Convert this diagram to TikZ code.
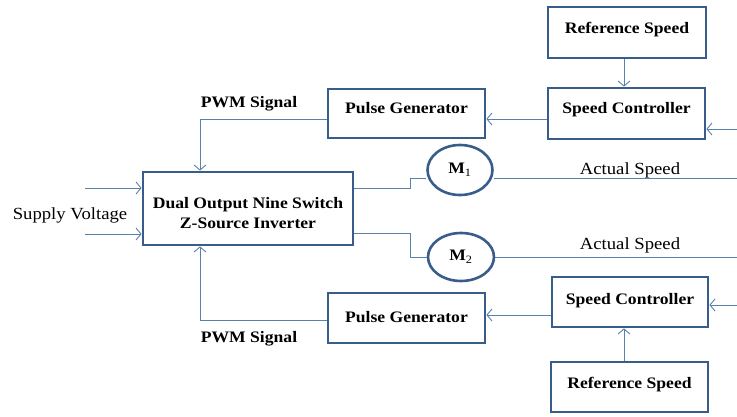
\documentclass[tikz,border=0pt]{standalone}
\usepackage{fontspec}
\setmainfont[FakeStretch=1.1]{Liberation Serif}
\usetikzlibrary{arrows.meta,shapes.geometric}
\definecolor{wire}{HTML}{5A80AC}
\definecolor{frame}{HTML}{385D8A}

\begin{document}
\begin{tikzpicture}[x=1pt,y=-1pt,
  blk/.style={draw=frame, line width=2.8pt, fill=white, inner sep=0pt,
    font=\bfseries\fontsize{16}{20}\selectfont},
  lifted/.style={text height=11pt, text depth=#1},
  motor/.style={draw=frame, line width=2.6pt, fill=white, shape=ellipse, inner sep=0pt,
    font=\bfseries\fontsize{16}{18}\selectfont},
  lbl/.style={font=\fontsize{17}{20}\selectfont, inner sep=0pt},
  blbl/.style={font=\bfseries\fontsize{16}{18}\selectfont, inner sep=0pt},
  arr/.style={draw=wire, line width=0.9pt, -{Straight Barb[length=5pt,width=12pt]}},
  wr/.style={draw=wire, line width=0.9pt}]
\useasboundingbox (0,0) rectangle (737,417);

% blocks
\node[blk, lifted=8pt, minimum width=158pt, minimum height=51pt] (refT) at (627,32.5) {Reference Speed};
\node[blk, lifted=10pt, minimum width=157pt, minimum height=51pt] (scT) at (626.5,113.5) {Speed Controller};
\node[blk, lifted=10pt, minimum width=157pt, minimum height=49pt] (pgT) at (406.5,113.5) {Pulse Generator};
\node[blk, minimum width=210pt, minimum height=73pt, align=center] (inv) at (248,208.5)
      {\rule{0pt}{21pt}Dual Output Nine Switch\\Z-Source Inverter};
\node[blk, lifted=7pt, minimum width=156pt, minimum height=50pt] (scB) at (630,302) {Speed Controller};
\node[blk, lifted=3pt, minimum width=157pt, minimum height=50pt] (pgB) at (406.5,318) {Pulse Generator};
\node[blk, lifted=9pt, minimum width=157pt, minimum height=50pt] (refB) at (629.5,387) {Reference Speed};

% motors
\node[motor, minimum width=65pt, minimum height=50pt] (M1) at (460,170) {M\textsubscript{\mdseries 1}};
\node[motor, minimum width=66pt, minimum height=48pt] (M2) at (461,257) {M\textsubscript{\mdseries 2}};

% labels
\node[lbl] (sv) at (70,215) {Supply Voltage};
\node[lbl] (as1) at (630,170) {Actual Speed};
\node[lbl] (as2) at (630,245) {Actual Speed};
\node[blbl] (pwmT) at (249,104) {PWM Signal};
\node[blbl] (pwmB) at (249,339) {PWM Signal};

% free ends and bends
\coordinate (vT) at (624,0);
\coordinate (vB) at (624,0);
\coordinate (fbT) at (737,129);
\coordinate (fbB) at (737,305);
\coordinate (in1) at (85,188);
\coordinate (in2) at (85,234);
\coordinate (pT) at (200,119);
\coordinate (pB) at (200,320);
\coordinate (o1) at (410,188);
\coordinate (o1b) at (410,178);
\coordinate (o2) at (410,233);
\coordinate (e1) at (737,178);
\coordinate (e2) at (737,257);

% upper control loop
\draw[arr] (refT.south -| vT) -- (scT.north -| vT);
\draw[arr] (fbT) -- (fbT -| scT.east);
\draw[arr] (scT.west |- 0,119) -- (pgT.east |- 0,119);
\draw[arr] (pgT.west |- pT) -- (pT) -- (pT |- inv.north);

% supply inputs
\draw[arr] (in1) -- (in1 -| inv.west);
\draw[arr] (in2) -- (in2 -| inv.west);

% inverter outputs to motors and speed feedback lines
\draw[wr] (inv.east |- o1) -- (o1) -- (o1b) -- (o1b -| M1.west);
\draw[wr] (M1.east |- e1) -- (e1);
\draw[wr] (inv.east |- o2) -- (o2) |- (M2.west);
\draw[wr] (M2.east) -- (e2);

% lower control loop
\draw[arr] (refB.north -| vB) -- (scB.south -| vB);
\draw[arr] (fbB) -- (fbB -| scB.east);
\draw[arr] (scB.west |- 0,315) -- (pgB.east |- 0,315);
\draw[arr] (pgB.west |- pB) -- (pB) -- (pB |- inv.south);
\end{tikzpicture}
\end{document}
